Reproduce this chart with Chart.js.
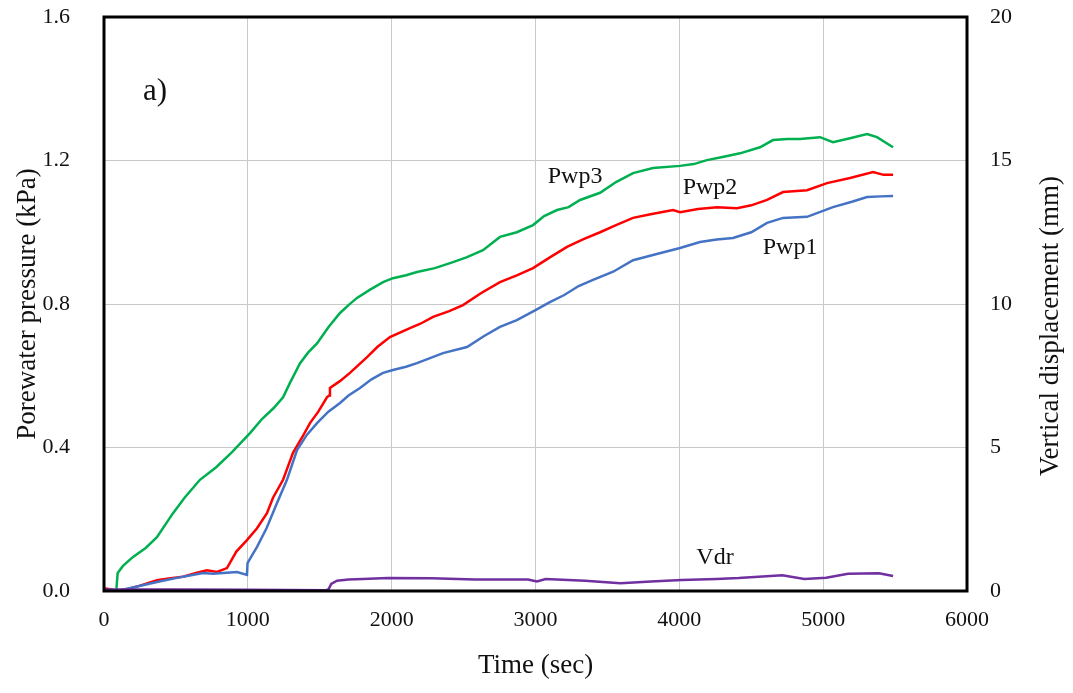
<!DOCTYPE html>
<html>
<head>
<meta charset="utf-8">
<script src="https://cdn.jsdelivr.net/npm/chart.js@4"></script>
<style>
html,body{margin:0;padding:0;background:#fff;}
#wrap{width:1073px;height:693px;}
</style>
</head>
<body>
<div id="wrap"><canvas id="c" width="1073" height="693"></canvas></div>
<script>
// ---- data ----
const xTicks = [0, 1000, 2000, 3000, 4000, 5000, 6000];
const leftTicks = [0.0, 0.4, 0.8, 1.2, 1.6];
const rightTicks = [0, 5, 10, 15, 20];

const pwp3Time = [75, 85, 95, 132, 202, 290, 368, 480, 560, 667, 780, 890, 1015, 1100, 1180, 1245, 1293, 1363, 1420, 1481, 1560, 1641, 1700, 1759, 1850, 1940, 2009, 2100, 2176, 2300, 2406, 2520, 2635, 2753, 2870, 2983, 3060, 3150, 3230, 3310, 3449, 3560, 3678, 3817, 4005, 4100, 4192, 4300, 4422, 4561, 4651, 4750, 4839, 4978, 5068, 5187, 5305, 5374, 5486];
const pwp3 = [0, 0, 0.05, 0.07, 0.095, 0.12, 0.15, 0.217, 0.26, 0.31, 0.345, 0.387, 0.44, 0.48, 0.51, 0.54, 0.58, 0.635, 0.665, 0.69, 0.735, 0.775, 0.797, 0.817, 0.84, 0.861, 0.872, 0.88, 0.889, 0.9, 0.914, 0.93, 0.95, 0.987, 1.0, 1.02, 1.045, 1.062, 1.07, 1.09, 1.11, 1.14, 1.165, 1.179, 1.185, 1.19, 1.201, 1.21, 1.22, 1.237, 1.257, 1.26, 1.26, 1.265, 1.251, 1.262, 1.274, 1.265, 1.237];

const pwp2Time = [0, 50, 90, 160, 250, 368, 450, 549, 640, 716, 786, 855, 920, 994, 1064, 1133, 1175, 1245, 1314, 1380, 1432, 1490, 1550, 1565, 1571, 1640, 1710, 1829, 1900, 1988, 2127, 2200, 2288, 2400, 2496, 2620, 2753, 2870, 2983, 3100, 3219, 3330, 3449, 3560, 3678, 3800, 3956, 4005, 4130, 4262, 4401, 4500, 4610, 4721, 4888, 5027, 5187, 5347, 5420, 5486];
const pwp2 = [0.008, 0.004, 0, 0.005, 0.015, 0.03, 0.035, 0.04, 0.05, 0.058, 0.053, 0.064, 0.11, 0.142, 0.175, 0.217, 0.26, 0.31, 0.385, 0.43, 0.468, 0.5, 0.54, 0.545, 0.566, 0.585, 0.608, 0.652, 0.68, 0.708, 0.733, 0.745, 0.764, 0.78, 0.797, 0.83, 0.861, 0.88, 0.9, 0.93, 0.959, 0.98, 1.0, 1.02, 1.04, 1.05, 1.062, 1.056, 1.065, 1.07, 1.067, 1.075, 1.09, 1.112, 1.117, 1.137, 1.151, 1.168, 1.16, 1.16];

const pwp1Time = [90, 200, 368, 549, 688, 760, 827, 925, 994, 998, 1030, 1064, 1130, 1203, 1272, 1342, 1410, 1481, 1560, 1641, 1700, 1780, 1860, 1940, 2009, 2100, 2176, 2357, 2524, 2640, 2753, 2870, 3000, 3100, 3200, 3300, 3400, 3540, 3678, 3850, 4005, 4144, 4260, 4373, 4500, 4610, 4721, 4888, 5068, 5200, 5305, 5400, 5486];
const pwp1 = [0, 0.01, 0.025, 0.04, 0.05, 0.048, 0.05, 0.053, 0.045, 0.078, 0.1, 0.123, 0.175, 0.245, 0.31, 0.393, 0.435, 0.468, 0.5, 0.524, 0.545, 0.566, 0.59, 0.608, 0.616, 0.625, 0.635, 0.663, 0.68, 0.71, 0.736, 0.755, 0.783, 0.805, 0.825, 0.85, 0.867, 0.89, 0.922, 0.94, 0.956, 0.973, 0.98, 0.984, 1.0, 1.026, 1.04, 1.043, 1.07, 1.085, 1.098, 1.1, 1.101];

const vdrTime = [0, 500, 1000, 1540, 1560, 1580, 1620, 1700, 1800, 1973, 2277, 2580, 2948, 3010, 3070, 3345, 3590, 3803, 4016, 4260, 4412, 4716, 4869, 5021, 5173, 5388, 5486];
const vdr = [0.05, 0.05, 0.04, 0.03, 0.05, 0.25, 0.36, 0.4, 0.42, 0.45, 0.44, 0.4, 0.4, 0.33, 0.42, 0.36, 0.27, 0.33, 0.38, 0.42, 0.45, 0.55, 0.42, 0.46, 0.6, 0.62, 0.52];

const seriesNames = ['Pwp1', 'Pwp2', 'Pwp3', 'Vdr'];
const seriesColors = ['#4472c4', '#ff0000', '#00b050', '#7030a0'];

// labels placed in data coordinates: [text, time, kPa]
const annotations = [
  ['Pwp3', 3275, 1.154],
  ['Pwp2', 4213, 1.123],
  ['Pwp1', 4770, 0.956],
  ['Vdr', 4248, 0.092]
];

const pts = (xs, ys) => xs.map((x, i) => ({x: x, y: ys[i]}));
const SERIF = '"Liberation Serif", "Times New Roman", serif';
const TICK = 22, TITLE = 27, NOTE = 24;

const framePlugin = {
  id: 'frame',
  afterDatasetsDraw(chart) {
    const {ctx, chartArea: a} = chart;
    ctx.save();
    ctx.strokeStyle = '#000';
    ctx.lineWidth = 3;
    ctx.strokeRect(a.left, a.top, a.right - a.left, a.bottom - a.top);
    ctx.restore();
  },
  afterDraw(chart) {
    const {ctx, scales} = chart;
    const xs = scales.x, ys = scales.y;
    ctx.save();
    ctx.fillStyle = '#111';
    ctx.textAlign = 'center';
    ctx.textBaseline = 'middle';
    ctx.font = NOTE + 'px ' + SERIF;
    annotations.forEach(a => {
      ctx.fillText(a[0], xs.getPixelForValue(a[1]), ys.getPixelForValue(a[2]));
    });
    ctx.font = '31px ' + SERIF;
    ctx.fillText('a)', xs.getPixelForValue(355), ys.getPixelForValue(1.39));
    // right axis title, reading bottom-to-top
    ctx.font = TITLE + 'px ' + SERIF;
    ctx.translate(1051, 326);
    ctx.rotate(-Math.PI / 2);
    ctx.fillText('Vertical displacement (mm)', 0, 0);
    ctx.restore();
  }
};

const mk = (name, xs, ys, color, axis) => ({
  label: name, data: pts(xs, ys), borderColor: color, backgroundColor: color,
  borderWidth: 2.5, pointRadius: 0, tension: 0, yAxisID: axis, fill: false
});

const fitY = w => s => { s.width = w; s.paddingTop = 0; s.paddingBottom = 0; };

new Chart(document.getElementById('c'), {
  type: 'line',
  data: {
    datasets: [
      mk(seriesNames[3], vdrTime, vdr, seriesColors[3], 'y2'),
      mk(seriesNames[0], pwp1Time, pwp1, seriesColors[0], 'y'),
      mk(seriesNames[1], pwp2Time, pwp2, seriesColors[1], 'y'),
      mk(seriesNames[2], pwp3Time, pwp3, seriesColors[2], 'y')
    ]
  },
  options: {
    responsive: false,
    animation: false,
    devicePixelRatio: 1,
    layout: {padding: {top: 17, left: 0, right: 0, bottom: 0}},
    plugins: {legend: {display: false}, tooltip: {enabled: false}},
    scales: {
      x: {
        type: 'linear', min: xTicks[0], max: xTicks[xTicks.length - 1],
        afterBuildTicks: s => { s.ticks = xTicks.map(v => ({value: v})); },
        afterFit: s => { s.height = 102; s.paddingLeft = 0; s.paddingRight = 0; },
        grid: {color: '#c8c8c8', lineWidth: 1, drawTicks: false},
        border: {display: false},
        ticks: {padding: 16, color: '#111', font: {family: SERIF, size: TICK}, maxRotation: 0,
                callback: v => String(v)},
        title: {display: true, text: 'Time (sec)', color: '#111', font: {family: SERIF, size: TITLE}, padding: {bottom: 11}}
      },
      y: {
        position: 'left', min: 0, max: 1.6,
        afterBuildTicks: s => { s.ticks = leftTicks.map(v => ({value: v})); },
        afterFit: fitY(104),
        grid: {color: '#c8c8c8', lineWidth: 1, drawTicks: false},
        border: {display: false},
        ticks: {padding: 34, color: '#111', font: {family: SERIF, size: TICK}, callback: v => Number(v).toFixed(1)},
        title: {display: true, text: 'Porewater pressure (kPa)', color: '#111', font: {family: SERIF, size: TITLE}, padding: {top: 12}}
      },
      y2: {
        position: 'right', min: 0, max: 20,
        afterBuildTicks: s => { s.ticks = rightTicks.map(v => ({value: v})); },
        afterFit: fitY(106),
        grid: {display: false, drawTicks: false},
        border: {display: false},
        ticks: {padding: 23, color: '#111', font: {family: SERIF, size: TICK}, callback: v => String(v)},
        title: {display: false}
      }
    }
  },
  plugins: [framePlugin]
});
</script>
</body>
</html>
